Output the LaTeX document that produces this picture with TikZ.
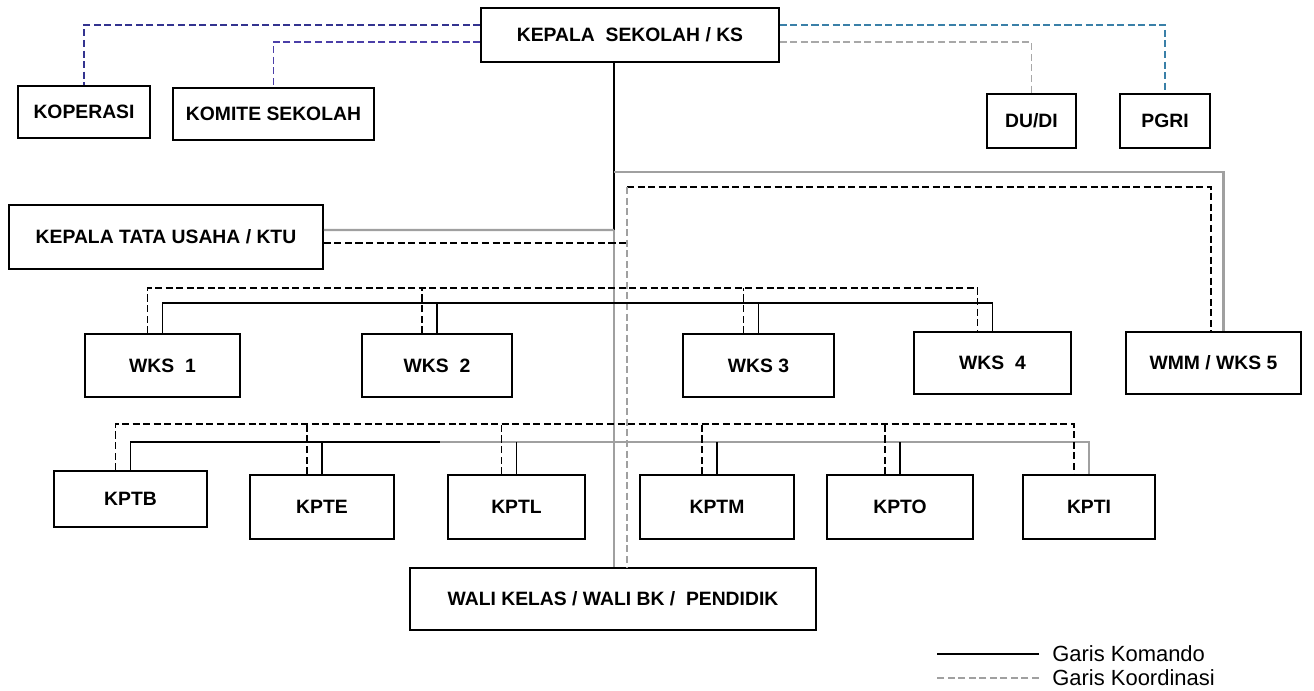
\documentclass[tikz,border=0pt]{standalone}
\usepackage{fontspec}
\setmainfont{Liberation Sans}
\usetikzlibrary{positioning}
\definecolor{kopcol}{HTML}{33338F}
\definecolor{komcol}{HTML}{4B3FA8}
\definecolor{pgricol}{HTML}{3A80A8}
\definecolor{dudicol}{HTML}{A8A8A8}
\definecolor{kmdgray}{HTML}{A0A0A0}
\tikzset{
  box/.style={draw, line width=1pt, inner sep=0pt, font=\fontsize{11}{13}\selectfont\bfseries},
  komando/.style={line width=0.9pt},
  koord/.style={line width=0.9pt, dash pattern=on 4pt off 2pt},
  legend/.style={inner sep=0pt, anchor=west, font=\fontsize{12.5}{14}\selectfont}
}
\begin{document}
\begin{tikzpicture}[x=0.02cm, y=-0.02cm]
\useasboundingbox (0,0) rectangle (1314,690);

\node[box, minimum width=5.96cm, minimum height=1.08cm] (ks) at (630,35) {KEPALA\ \ SEKOLAH / KS};
\node[box, minimum width=2.64cm, minimum height=1.04cm] (kop) at (84,112) {KOPERASI};
\node[box, minimum width=4.02cm, minimum height=1.04cm] (kom) at (273.5,114) {KOMITE SEKOLAH};
\node[box, minimum width=1.78cm, minimum height=1.08cm] (dudi) at (1031.5,121) {DU/DI};
\node[box, minimum width=1.80cm, minimum height=1.08cm] (pgri) at (1165,121) {PGRI};
\node[box, minimum width=6.28cm, minimum height=1.28cm] (ktu) at (166,237) {KEPALA TATA USAHA / KTU};

\node[box, minimum width=3.10cm, minimum height=1.26cm] (wks1) at (162.5,365.5) {WKS\ \ 1};
\node[box, minimum width=3.00cm, minimum height=1.26cm] (wks2) at (437,365.5) {WKS\ \ 2};
\node[box, minimum width=3.02cm, minimum height=1.26cm] (wks3) at (758.5,365.5) {WKS 3};
\node[box, minimum width=3.14cm, minimum height=1.24cm] (wks4) at (992.5,363) {WKS\ \ 4};
\node[box, minimum width=3.50cm, minimum height=1.24cm] (wmm) at (1213.5,363) {WMM / WKS 5};

\node[box, minimum width=3.06cm, minimum height=1.12cm] (kptb) at (130.5,499) {KPTB};
\node[box, minimum width=2.88cm, minimum height=1.28cm] (kpte) at (322,507) {KPTE};
\node[box, minimum width=2.74cm, minimum height=1.28cm] (kptl) at (516.5,507) {KPTL};
\node[box, minimum width=3.08cm, minimum height=1.28cm] (kptm) at (717,507) {KPTM};
\node[box, minimum width=2.92cm, minimum height=1.28cm] (kpto) at (900,507) {KPTO};
\node[box, minimum width=2.64cm, minimum height=1.28cm] (kpti) at (1089,507) {KPTI};

\node[box, minimum width=8.12cm, minimum height=1.24cm] (wali) at (613,599) {WALI KELAS / WALI BK /\ \ PENDIDIK};

\draw[koord, kopcol] ([yshift=0.2cm]ks.west) -| (kop.north);
\draw[koord, komcol] ([yshift=-0.14cm]ks.west) -| (kom.north);
\draw[koord, pgricol] ([yshift=0.2cm]ks.east) -| (pgri.north);
\draw[koord, dudicol] ([yshift=-0.14cm]ks.east) -| (dudi.north);

\coordinate (kmd) at (614,230);
\coordinate (kmdtop) at (614,172);
\coordinate (krd) at (627,187);
\draw[komando] (ks.south -| kmd) -- (kmd);
\draw[komando, kmdgray, line width=1.2pt] (kmd) -- (kmd |- wali.north);
\draw[komando, kmdgray, line width=1.2pt] (kmdtop) -| ([xshift=0.2cm]wmm.north);
\draw[komando, kmdgray, line width=1.2pt] ([yshift=0.14cm]ktu.east) -- (kmd);
\draw[koord] (krd) -| ([xshift=-0.05cm]wmm.north);
\draw[koord, kmdgray] (krd) -- (krd |- wali.north);
\draw[koord] ([yshift=-0.12cm]ktu.east) -- ([yshift=-0.12cm]ktu.east -| krd);

\coordinate (wkskmd) at (0,303);
\coordinate (wkskrd) at (0,288);
\draw[komando] (wks1.north) |- (wks4.north |- wkskmd) -- (wks4.north);
\draw[koord] ([xshift=-0.3cm]wks1.north) |- ([xshift=-0.3cm]wks4.north |- wkskrd) -- ([xshift=-0.3cm]wks4.north);
\foreach \n in {wks2,wks3}{
  \draw[komando] (\n.north) -- (\n.north |- wkskmd);
  \draw[koord] ([xshift=-0.3cm]\n.north) -- ([xshift=-0.3cm]\n.north |- wkskrd);
}

\coordinate (kptkmd) at (440,442);
\coordinate (kptkrd) at (0,424);
\draw[komando] (kptb.north) |- (kptkmd);
\draw[komando, kmdgray] (kptkmd) -| (kpti.north);
\draw[koord] ([xshift=-0.3cm]kptb.north) |- ([xshift=-0.3cm]kpti.north |- kptkrd) -- ([xshift=-0.3cm]kpti.north);
\foreach \n in {kpte,kptl,kptm,kpto}{
  \draw[komando] (\n.north) -- (\n.north |- kptkmd);
  \draw[koord] ([xshift=-0.3cm]\n.north) -- ([xshift=-0.3cm]\n.north |- kptkrd);
}

\node[legend] (lgkmd) at (1052,654) {Garis Komando};
\node[legend] (lgkrd) at (1052,678) {Garis Koordinasi};
\draw[komando] ([xshift=-0.26cm]lgkmd.west) -- ++(-2.04cm,0);
\draw[koord, kmdgray] ([xshift=-0.26cm]lgkrd.west) -- ++(-2.1cm,0);

\end{tikzpicture}
\end{document}
